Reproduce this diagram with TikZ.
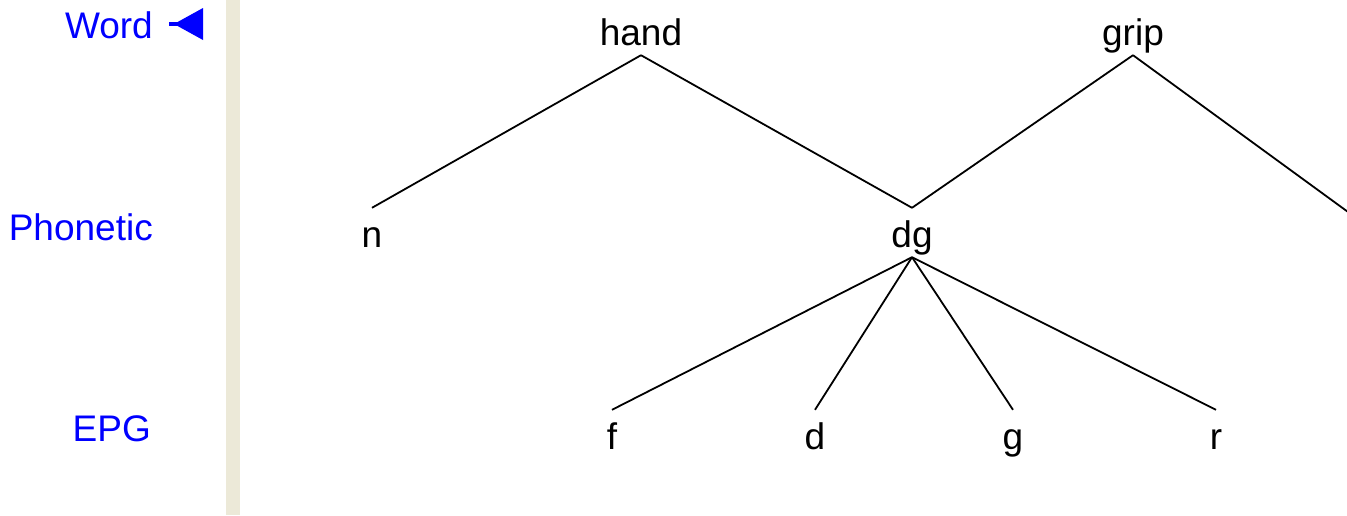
\documentclass[tikz,border=0pt]{standalone}
\usepackage{fontspec}
\setmainfont{Liberation Sans}
\usepackage{xcolor}
\usepackage{tikz}
\usetikzlibrary{positioning}
\definecolor{panelgray}{RGB}{236,233,216}

\begin{document}
\begin{tikzpicture}[
        x=1pt, y=-1pt,
        tier/.style={anchor=base east, inner sep=0pt, text=blue, font=\fontsize{37}{40}\selectfont},
        seg/.style={anchor=base, inner sep=0pt, text height=39pt, text depth=10pt, font=\fontsize{37}{40}\selectfont},
        link/.style={draw, line width=1.8pt}
    ]
        \clip (0,0) rectangle (1347,515);
        \fill[white] (0,0) rectangle (1347,515);
        \fill[panelgray] (226,0) rectangle (240,515);

        % tier names
        \node[tier] (word) at (153,38) {Word};
        \node[tier] (phonetic) at (153,240) {Phonetic};
        \node[tier] (epg) at (151,441) {EPG};
        \fill[blue] (169,22) rectangle (178,26);
        \fill[blue] (174,24) -- (203,8) -- (203,40) -- cycle;

        % word level
        \node[seg] (hand) at (641,45) {hand};
        \node[seg] (grip) at (1133,45) {grip};
        % phonetic level
        \node[seg] (n) at (372,247) {n};
        \node[seg] (dg) at (912,247) {dg};
        \coordinate (gripout) at (1370,228);
        % epg level
        \node[seg] (f) at (612,449) {f};
        \node[seg] (d) at (815,449) {d};
        \node[seg] (g) at (1013,449) {g};
        \node[seg] (r) at (1216,449) {r};

        \draw[link] (hand.south) -- (n.north);
        \draw[link] (hand.south) -- (dg.north);
        \draw[link] (grip.south) -- (dg.north);
        \draw[link] (grip.south) -- (gripout);
        \foreach \leaf in {f,d,g,r}
            \draw[link] (dg.south) -- (\leaf.north);
\end{tikzpicture}
\end{document}
